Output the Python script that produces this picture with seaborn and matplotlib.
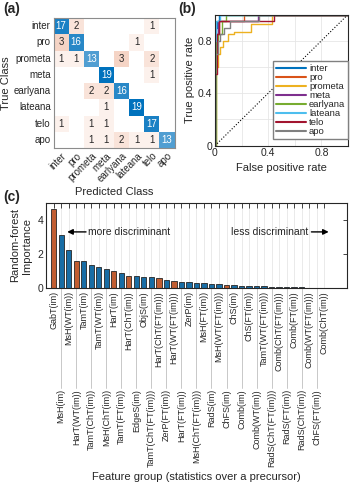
import numpy as np
import pandas as pd
import matplotlib
matplotlib.use('Agg')
import matplotlib.pyplot as plt
from matplotlib.colors import LinearSegmentedColormap
import seaborn as sns

# ---- data ----
classes = ['inter', 'pro', 'prometa', 'meta', 'earlyana', 'lateana', 'telo', 'apo']
conf = np.array([
    [17, 2, 0, 0, 0, 0, 1, 0],
    [3, 16, 0, 0, 0, 1, 0, 0],
    [1, 1, 13, 0, 3, 0, 2, 0],
    [0, 0, 0, 19, 0, 0, 1, 0],
    [0, 0, 2, 2, 16, 0, 0, 0],
    [0, 0, 0, 1, 0, 19, 0, 0],
    [1, 0, 1, 1, 0, 0, 17, 0],
    [0, 0, 1, 1, 2, 1, 1, 13],
])

# ROC corner points (steps-post)
roc_fpr = {
    'inter':    [0, 0, 0.007, 0.014, 0.03, 1],
    'pro':      [0, 0, 0.01, 0.03, 0.22, 1],
    'prometa':  [0, 0.007, 0.007, 0.02, 0.035, 0.06, 0.10, 0.14, 0.27, 0.43, 1],
    'meta':     [0, 0, 0.01, 0.02, 0.32, 1],
    'earlyana': [0, 0.007, 0.007, 0.02, 0.05, 0.08, 1],
    'lateana':  [0, 0, 0.007, 0.04, 1],
    'telo':     [0, 0, 0.014, 0.03, 0.44, 1],
    'apo':      [0, 0, 0.02, 0.04, 0.07, 0.11, 0.33, 1],
}
roc_tpr = {
    'inter':    [0, 0.6, 0.9, 0.95, 1, 1],
    'pro':      [0, 0.7, 0.85, 0.95, 1, 1],
    'prometa':  [0, 0.25, 0.6, 0.7, 0.75, 0.8, 0.85, 0.87, 0.93, 1, 1],
    'meta':     [0, 0.65, 0.85, 0.95, 1, 1],
    'earlyana': [0, 0.4, 0.8, 0.85, 0.95, 1, 1],
    'lateana':  [0, 0.8, 0.95, 1, 1],
    'telo':     [0, 0.55, 0.85, 0.95, 1, 1],
    'apo':      [0, 0.7, 0.8, 0.85, 0.9, 0.95, 1, 1],
}
roc_colors = ['#0072BD', '#D95319', '#EDB120', '#7E2F8E', '#77AC30',
              '#4DBEEE', '#A2142F', '#808080']

features = ['GabT(im)', 'MsH(im)', 'MsH(WT(im))', 'HarT(WT(im))', 'TamT(im)',
            'TamT(ChT(im))', 'TamT(WT(im))', 'MsH(ChT(im))', 'HarT(im)',
            'TamT(FT(im))', 'HarT(ChT(im))', 'EdgeS(im)', 'ObjS(im)',
            'TamT(ChT(FT(im)))', 'HarT(ChT(FT(im)))', 'ZerP(FT(im))',
            'HarT(WT(FT(im)))', 'HarT(FT(im))', 'ZerP(im)', 'MsH(ChT(FT(im)))',
            'MsH(FT(im))', 'RadS(im)', 'MsH(WT(FT(im)))', 'ChFS(im)', 'ChS(im)',
            'Comb(im)', 'ChS(FT(im))', 'Comb(WT(im))', 'TamT(WT(FT(im)))',
            'RadS(ChT(FT(im)))', 'Comb(ChT(FT(im)))', 'RadS(FT(im))',
            'Comb(FT(im))', 'RadS(ChT(im))', 'Comb(WT(FT(im)))', 'ChFS(FT(im))',
            'Comb(ChT(im))']
importance = [4.63, 3.10, 2.22, 1.61, 1.57, 1.33, 1.23, 1.12, 1.02, 0.86,
              0.71, 0.70, 0.66, 0.65, 0.61, 0.49, 0.41, 0.36, 0.34, 0.31,
              0.29, 0.25, 0.22, 0.20, 0.16, 0.12, 0.10, 0.10, 0.09, 0.08,
              0.06, 0.05, 0.05, 0.04, 0.02, 0.01, 0.005]
highlight = [1, 4, 9, 11, 15, 17, 24]

# ---- style ----
sns.set_style('white')
plt.rcParams['font.family'] = ['Liberation Sans', 'DejaVu Sans']
plt.rcParams['axes.edgecolor'] = '0.15'
plt.rcParams['axes.linewidth'] = 0.8

W, H = 355, 497
fig = plt.figure(figsize=(W / 100, H / 100), dpi=100)

def rect(l, t, r, b):
    return [l / W, 1 - b / H, (r - l) / W, (b - t) / H]

# ---- (a) confusion matrix ----
ax_a = fig.add_axes(rect(53.5, 18, 174.5, 148))
n = len(classes)
diag = np.eye(n, dtype=bool)
annot = np.where(conf > 0, conf.astype(str), '')
blue_cmap = LinearSegmentedColormap.from_list('b', ['white', '#0072BD'])
red_cmap = LinearSegmentedColormap.from_list('r', ['white', '#D95319'])
sns.heatmap(conf, mask=~diag, cmap=blue_cmap, vmin=0, vmax=19, annot=annot, fmt='',
            annot_kws={'color': 'white', 'fontsize': 7}, cbar=False, ax=ax_a)
sns.heatmap(conf, mask=diag, cmap=red_cmap, vmin=0, vmax=12, annot=annot, fmt='',
            annot_kws={'color': '0.15', 'fontsize': 7}, cbar=False, ax=ax_a)
ax_a.set_xticks(np.arange(n) + 0.5)
ax_a.set_yticks(np.arange(n) + 0.5)
ax_a.set_xticklabels(classes, rotation=45, ha='right', rotation_mode='anchor', fontsize=7)
ax_a.set_yticklabels(classes, rotation=0, fontsize=7)
ax_a.tick_params(length=0, pad=2)
for s in ax_a.spines.values():
    s.set_visible(True)
    s.set_color('0.55')
    s.set_linewidth(0.8)
ax_a.set_xlabel('Predicted Class', fontsize=8, labelpad=2)
ax_a.set_ylabel('True Class', fontsize=8, labelpad=2)

# ---- (b) ROC ----
ax_b = fig.add_axes(rect(215, 14.5, 348, 145.7))
for name, col in zip(classes, roc_colors):
    sns.lineplot(x=roc_fpr[name], y=roc_tpr[name], sort=False, estimator=None,
                 drawstyle='steps-post', color=col, lw=1, label=name, ax=ax_b)
ax_b.plot([0, 1], [0, 1], ls=':', color='k', lw=0.8)
ax_b.set_xlim(0, 1)
ax_b.set_ylim(0, 1)
ticks = [0, 0.2, 0.4, 0.6, 0.8, 1.0]
tlab = ['0', '', '0.4', '', '0.8', '']
ax_b.set_xticks(ticks)
ax_b.set_xticklabels(tlab)
ax_b.set_yticks(ticks)
ax_b.set_yticklabels(tlab)
ax_b.tick_params(labelsize=7.5, length=0, pad=2)
ax_b.grid(True, color='0.9', lw=0.6)
ax_b.set_axisbelow(True)
ax_b.set_xlabel('False positive rate', fontsize=8, labelpad=3)
ax_b.set_ylabel('True positive rate', fontsize=8, labelpad=2)
leg = ax_b.legend(loc='lower right', bbox_to_anchor=(1.0, 0.05), borderaxespad=0,
                  fontsize=6.8, labelspacing=0.0, handlelength=3.2, handletextpad=0.3,
                  borderpad=0.3, fancybox=False, framealpha=1, edgecolor='0.5')
for line in leg.get_lines():
    line.set_linewidth(1.5)

# ---- (c) feature importance ----
ax_c = fig.add_axes(rect(46.2, 203, 346.7, 288))
pos = np.arange(1, len(features) + 1)
bar_colors = ['#D95319' if p in highlight else '#0072BD' for p in pos]
df = pd.DataFrame({'pos': pos, 'imp': importance})
sns.barplot(data=df, x='pos', y='imp', hue='pos', native_scale=True, dodge=False,
            palette=bar_colors, width=0.7, edgecolor='0.15', linewidth=0.6,
            errorbar=None, legend=False, ax=ax_c)
ax_c.set_xlim(0, 40)
ax_c.set_ylim(0, 5)
ax_c.set_yticks([0, 2, 4])
ax_c.set_xticks(pos)
ax_c.set_xticklabels([])
ax_c.tick_params(axis='x', top=True, direction='in', length=3.5, width=0.6)
ax_c.tick_params(axis='y', right=True, direction='in', length=3, width=0.6,
                 labelsize=7.5, pad=2)
# staggered tick labels: every second one sits lower with a leader line
ax_h = 85.0
xt = ax_c.get_xaxis_transform()
for i, (p, lab) in enumerate(zip(pos, features)):
    if i % 2 == 0:
        ax_c.text(p, -3 / ax_h, lab, transform=xt, rotation=90, ha='center',
                  va='top', fontsize=6.5)
    else:
        ax_c.plot([p, p], [0, -100 / ax_h], color='0.75', lw=0.6, clip_on=False,
                  transform=xt)
        ax_c.text(p, -101 / ax_h, lab, transform=xt, rotation=90, ha='center',
                  va='top', fontsize=6.5)
ax_c.grid(True, axis='x', color='0.9', lw=0.6)
ax_c.set_axisbelow(True)
ax_c.set_xlabel('')
ax_c.text(0.5, -189 / ax_h, 'Feature group (statistics over a precursor)',
          transform=ax_c.transAxes, ha='center', va='center', fontsize=8)
ax_c.set_ylabel('Random-forest\nImportance', fontsize=8, labelpad=4)

ax_c.annotate('', xy=(2.8, 3.3), xytext=(5.3, 3.3),
              arrowprops=dict(arrowstyle='-|>', color='k', lw=1, mutation_scale=8,
                              shrinkA=0, shrinkB=0))
ax_c.text(5.6, 3.3, 'more discriminant', fontsize=7.5, va='center', ha='left')
ax_c.text(34.9, 3.3, 'less discriminant', fontsize=7.5, va='center', ha='right')
ax_c.annotate('', xy=(37.6, 3.3), xytext=(35.3, 3.3),
              arrowprops=dict(arrowstyle='-|>', color='k', lw=1, mutation_scale=8,
                              shrinkA=0, shrinkB=0))

# panel letters
fig.text(3 / W, 1 - 9 / H, '(a)', fontsize=10, fontweight='bold', va='center')
fig.text(178 / W, 1 - 9 / H, '(b)', fontsize=10, fontweight='bold', va='center')
fig.text(3 / W, 1 - 197 / H, '(c)', fontsize=10, fontweight='bold', va='center')

fig.savefig('out.png', dpi=100)
